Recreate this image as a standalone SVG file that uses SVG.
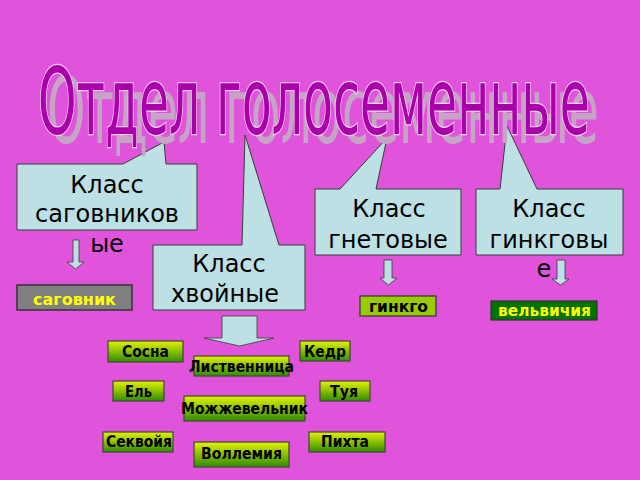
<svg xmlns="http://www.w3.org/2000/svg" width="640" height="480" viewBox="0 0 640 480">
<defs>
<linearGradient id="gg" x1="0" y1="0" x2="0" y2="1">
<stop offset="0" stop-color="#E4F200"/>
<stop offset="1" stop-color="#2F8C00"/>
</linearGradient>
<style>
.co{fill:#BCE0E4;stroke:#3A3A3A;stroke-width:1}
.ct{font-family:"DejaVu Sans",sans-serif;font-size:24px;fill:#000;text-anchor:middle}
.ar{fill:#BCE0E4;stroke:#3A3A3A;stroke-width:0.8}
.gb{fill:url(#gg);stroke:#3A4A30;stroke-width:1.2}
.bt{font-family:"DejaVu Sans",sans-serif;font-weight:bold;font-size:15px;fill:#000;text-anchor:middle}
.lt{font-family:"DejaVu Sans",sans-serif;font-weight:bold;font-size:16px;text-anchor:middle}
.tt{font-family:"DejaVu Sans",sans-serif;font-size:92px}
</style>
</defs>
<rect x="0" y="0" width="640" height="480" fill="#E054DC"/>

<g id="callout-sagovnik">
<path class="co" d="M17,164 H123 L164,142 L166,164 H197 V230 H17 Z"/>
<text class="ct" x="107" y="193">Класс</text>
<text class="ct" x="107" y="222">саговников</text>
<text class="ct" x="107" y="252">ые</text>
</g>
<g id="callout-hvoynye">
<path class="co" d="M153,245 H242 L245,135 L279,245 H305 V310 H153 Z"/>
<text class="ct" x="229" y="272">Класс</text>
<text class="ct" x="225" y="302">хвойные</text>
</g>
<g id="callout-gnetovye">
<path class="co" d="M315,189 H340 L387,138 L376,189 H461 V255 H315 Z"/>
<text class="ct" x="389" y="217">Класс</text>
<text class="ct" x="388" y="248">гнетовые</text>
</g>
<g id="callout-ginkgovye">
<path class="co" d="M476,189 H500 L507,126 L537,189 H623 V255 H476 Z"/>
<text class="ct" x="549" y="217">Класс</text>
<text class="ct" x="549" y="248">гинкговы</text>
<text class="ct" x="544" y="277">е</text>
</g>

<g id="title">
<text class="tt" x="47" y="143" fill="#C4A6C4" textLength="552" lengthAdjust="spacingAndGlyphs">Отдел голосеменные</text>
<text class="tt" x="38" y="134" fill="#A900A9" stroke="#F4D4F4" stroke-width="2.4" paint-order="stroke" textLength="552" lengthAdjust="spacingAndGlyphs">Отдел голосеменные</text>
</g>

<g id="connectors">
<path class="ar" d="M73,240 H79 V262 H84 L75.5,269 L67,262 H73 Z"/>
<path class="ar" d="M384,260 H392 V278 H397 L388.5,285 L380,278 H384 Z"/>
<path class="ar" d="M557,260 H565 V279 H569 L560.5,285 L552,279 H557 Z"/>
<path class="ar" d="M222,316 H257 V338 H274 L239.5,346 L204,338 H222 Z"/>
</g>

<g id="sagovnik">
<rect x="17" y="285" width="115" height="25" fill="#808080" stroke="#333" stroke-width="1.5"/>
<text class="lt" x="74.5" y="305" font-size="18" fill="#FFFF00" textLength="83" lengthAdjust="spacingAndGlyphs">саговник</text>
</g>
<g id="ginkgo">
<rect x="360" y="296" width="76" height="20" fill="#99CC00" stroke="#333" stroke-width="1.2"/>
<text class="lt" x="398.5" y="312" fill="#000" textLength="59" lengthAdjust="spacingAndGlyphs">гинкго</text>
</g>
<g id="velvichiya">
<rect x="491" y="301" width="106" height="19" fill="#007400" stroke="#333" stroke-width="1.2"/>
<text class="lt" x="544.5" y="316" fill="#FFFF00" textLength="93" lengthAdjust="spacingAndGlyphs">вельвичия</text>
</g>

<g id="sosna">
<rect class="gb" x="108" y="341" width="75" height="21"/>
<text class="bt" x="145.5" y="357" textLength="47" lengthAdjust="spacingAndGlyphs">Сосна</text>
</g>
<g id="kedr">
<rect class="gb" x="300" y="341" width="50" height="20"/>
<text class="bt" x="325" y="357" textLength="42" lengthAdjust="spacingAndGlyphs">Кедр</text>
</g>
<g id="listvennitsa">
<rect class="gb" x="194" y="356" width="95" height="20"/>
<text class="bt" x="241.5" y="372" textLength="105" lengthAdjust="spacingAndGlyphs">Лиственница</text>
</g>
<g id="el">
<rect class="gb" x="113" y="381" width="51" height="20"/>
<text class="bt" x="138.5" y="397" textLength="27" lengthAdjust="spacingAndGlyphs">Ель</text>
</g>
<g id="tuya">
<rect class="gb" x="320" y="381" width="50" height="20"/>
<text class="bt" x="344" y="397" textLength="28" lengthAdjust="spacingAndGlyphs">Туя</text>
</g>
<g id="mozhzhevelnik">
<rect class="gb" x="184" y="396" width="121" height="25"/>
<text class="bt" x="244.5" y="414" textLength="127" lengthAdjust="spacingAndGlyphs">Можжевельник</text>
</g>
<g id="sekvoyya">
<rect class="gb" x="103" y="432" width="70" height="20"/>
<text class="bt" x="139" y="447" textLength="66" lengthAdjust="spacingAndGlyphs">Секвойя</text>
</g>
<g id="pihta">
<rect class="gb" x="309" y="432" width="76" height="20"/>
<text class="bt" x="345" y="447" textLength="48" lengthAdjust="spacingAndGlyphs">Пихта</text>
</g>
<g id="vollemiya">
<rect class="gb" x="194" y="442" width="95" height="25"/>
<text class="bt" x="241.5" y="459" textLength="81" lengthAdjust="spacingAndGlyphs">Воллемия</text>
</g>
</svg>
